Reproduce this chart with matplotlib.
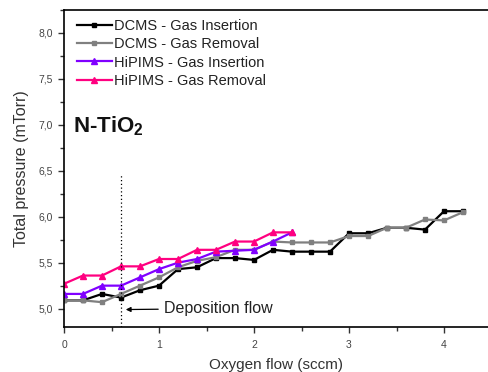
import matplotlib
matplotlib.use("Agg")
import matplotlib.pyplot as plt
from matplotlib.ticker import MultipleLocator, FuncFormatter

plt.rcParams['font.family'] = ['Liberation Sans', 'DejaVu Sans']
plt.rcParams['mathtext.default'] = 'regular'

# Oxygen flow (sccm) and total pressure (mTorr)
flow_dcms = [0.0, 0.2, 0.4, 0.6, 0.8, 1.0, 1.2, 1.4, 1.6, 1.8, 2.0, 2.2,
             2.4, 2.6, 2.8, 3.0, 3.2, 3.4, 3.6, 3.8, 4.0, 4.2]
dcms_insertion = [5.09, 5.09, 5.16, 5.12, 5.20, 5.25, 5.43, 5.45, 5.55, 5.55,
                  5.53, 5.64, 5.62, 5.62, 5.62, 5.82, 5.82, 5.88, 5.88, 5.86,
                  6.06, 6.06]
dcms_removal = [5.09, 5.09, 5.07, 5.16, 5.25, 5.34, 5.45, 5.52, 5.56, 5.64,
                5.64, 5.73, 5.72, 5.72, 5.72, 5.79, 5.79, 5.88, 5.88, 5.97,
                5.96, 6.05]

flow_hipims = [0.0, 0.2, 0.4, 0.6, 0.8, 1.0, 1.2, 1.4, 1.6, 1.8, 2.0, 2.2, 2.4]
hipims_insertion = [5.16, 5.16, 5.25, 5.25, 5.34, 5.43, 5.50, 5.54, 5.62,
                    5.63, 5.64, 5.73, 5.83]
hipims_removal = [5.27, 5.36, 5.36, 5.46, 5.46, 5.54, 5.54, 5.64, 5.64,
                  5.73, 5.73, 5.83, 5.83]

deposition_flow = 0.6

fig = plt.figure(figsize=(4.89, 3.72), dpi=100)
ax = fig.add_axes([64 / 489, 1 - 327 / 372, (488 - 64) / 489, (327 - 10) / 372])

ax.plot(flow_dcms, dcms_insertion, color='black', lw=1.6, marker='s', ms=3.5,
        label='DCMS - Gas Insertion')
ax.plot(flow_dcms, dcms_removal, color='#808080', lw=1.6, marker='s', ms=3.5,
        label='DCMS - Gas Removal')
ax.plot(flow_hipims, hipims_insertion, color='#8000ff', lw=1.6, marker='^',
        ms=5, label='HiPIMS - Gas Insertion')
ax.plot(flow_hipims, hipims_removal, color='#ff0080', lw=1.6, marker='^',
        ms=5, label='HiPIMS - Gas Removal')

ax.set_xlim(0, 4.463)
ax.set_ylim(4.8, 8.25)

ax.plot([deposition_flow, deposition_flow], [4.8, 6.45], color='black',
        lw=0.9, ls=(0, (1, 2)))

ax.annotate('Deposition flow', xy=(deposition_flow + 0.05, 4.99),
            xytext=(1.05, 5.0), va='center', ha='left', fontsize=11.5,
            color='#222222',
            arrowprops=dict(arrowstyle='-|>', color='black', lw=0.9,
                            mutation_scale=7, shrinkA=2, shrinkB=0))

ax.text(0.09, 6.99, 'N-TiO$_2$', fontsize=16, fontweight='bold',
        va='center', ha='left', color='#111111')

ax.xaxis.set_major_locator(MultipleLocator(1))
ax.xaxis.set_minor_locator(MultipleLocator(0.5))
ax.yaxis.set_major_locator(MultipleLocator(0.5))
ax.yaxis.set_minor_locator(MultipleLocator(0.25))
ax.yaxis.set_major_formatter(FuncFormatter(lambda v, p: f'{v:.1f}'.replace('.', ',')))
ax.xaxis.set_major_formatter(FuncFormatter(lambda v, p: f'{v:.0f}'))

ax.tick_params(which='both', direction='out', colors='#333333', labelsize=7.5,
               labelcolor='#444444')
ax.tick_params(which='major', length=4.5, width=1)
ax.tick_params(which='minor', length=3, width=1)
ax.tick_params(axis='x', pad=4.5)

for side in ('left', 'bottom', 'top'):
    ax.spines[side].set_linewidth(1.2)
    ax.spines[side].set_color('black')
ax.spines['right'].set_visible(False)

ax.set_xlabel('Oxygen flow (sccm)', fontsize=11, color='#333333', labelpad=6)
ax.set_ylabel('Total pressure (mTorr)', fontsize=11.5, color='#333333', labelpad=6.5)

leg = ax.legend(loc='upper left', bbox_to_anchor=(0.01, 1.0), frameon=False,
                fontsize=10.5, handlelength=2.4, handletextpad=0.15,
                labelspacing=0.3, borderaxespad=0.2)
for t in leg.get_texts():
    t.set_color('#222222')

fig.savefig('out.png', dpi=100)
